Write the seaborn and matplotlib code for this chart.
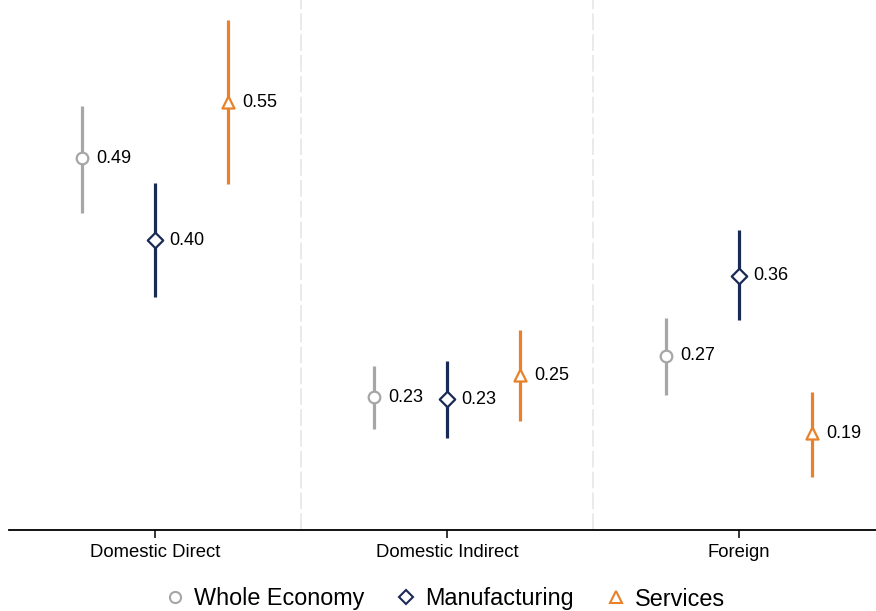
import matplotlib
matplotlib.use("Agg")
import matplotlib.pyplot as plt
from matplotlib.lines import Line2D
import seaborn as sns
import pandas as pd
import numpy as np

# ---- data ----
categories = ["Domestic Direct", "Domestic Indirect", "Foreign"]
series = ["Whole Economy", "Manufacturing", "Services"]
whole_val = [0.488, 0.228, 0.273]
whole_lo = [0.428, 0.193, 0.230]
whole_hi = [0.545, 0.262, 0.314]
manu_val = [0.399, 0.226, 0.360]
manu_lo = [0.337, 0.184, 0.312]
manu_hi = [0.461, 0.267, 0.410]
serv_val = [0.549, 0.252, 0.189]
serv_lo = [0.460, 0.202, 0.141]
serv_hi = [0.638, 0.301, 0.234]

colors = {"Whole Economy": "#A6A6A6", "Manufacturing": "#1A2A56", "Services": "#E8822A"}
markers = {"Whole Economy": "o", "Manufacturing": "D", "Services": "^"}
offsets = {"Whole Economy": -0.25, "Manufacturing": 0.0, "Services": 0.25}

rows = []
for s, v, lo, hi in [("Whole Economy", whole_val, whole_lo, whole_hi),
                     ("Manufacturing", manu_val, manu_lo, manu_hi),
                     ("Services", serv_val, serv_lo, serv_hi)]:
    for i, c in enumerate(categories):
        rows.append(dict(category=c, series=s, value=v[i], lo=lo[i], hi=hi[i],
                         x=i + offsets[s]))
df = pd.DataFrame(rows)

sns.set_style("white")
plt.rcParams["font.family"] = ["Liberation Sans", "DejaVu Sans"]
plt.rcParams["text.color"] = "black"
plt.rcParams["xtick.labelcolor"] = "black"

fig = plt.figure(figsize=(8.76, 6.11), dpi=100)
ax = fig.add_axes([9 / 876, 81 / 611, 876 / 876, 530 / 611])

# separators
for xs in [0.5, 1.5]:
    ax.axvline(xs, color="#E6E6E6", lw=1.2, ls=(0, (10, 2.5)), zorder=0)

# confidence intervals
for s in series:
    d = df[df.series == s]
    ax.vlines(d.x, d.lo, d.hi, color=colors[s], lw=2.3, zorder=2)

# point estimates
sizes = {"Whole Economy": 70, "Manufacturing": 62, "Services": 75}
for s in series:
    d = df[df.series == s]
    sns.scatterplot(data=d, x="x", y="value", marker=markers[s], s=sizes[s],
                    facecolor="white", edgecolor=colors[s], linewidth=1.6,
                    zorder=3, ax=ax, legend=False)

# labels
for _, r in df.iterrows():
    ax.text(r.x + 0.048, r.value, f"{r.value:.2f}", fontsize=13,
            va="center", ha="left", color="black")

ax.set_xlim(-0.5, 2.5)
ax.set_ylim(0.0837, 0.66)
ax.set_xticks(range(len(categories)))
ax.set_xticklabels(categories, fontsize=13.3, color="black")
ax.set_yticks([])
ax.set_xlabel("")
ax.set_ylabel("")
for sp in ["top", "right", "left"]:
    ax.spines[sp].set_visible(False)
ax.spines["bottom"].set_color("black")
ax.spines["bottom"].set_linewidth(1.3)
ax.tick_params(axis="x", bottom=True, length=6, width=1.1, color="black", pad=4)

handles = [Line2D([], [], ls="none", marker=markers[s], markersize=8 if s != "Manufacturing" else 7,
                  markerfacecolor="white", markeredgecolor=colors[s], markeredgewidth=1.5)
           for s in series]
leg = fig.legend(handles, series, loc="center", bbox_to_anchor=(0.507, 1 - 599 / 611),
                 ncol=3, frameon=False, fontsize=16.8, handletextpad=0.3,
                 columnspacing=1.3, handlelength=1.0)
for t in leg.get_texts():
    t.set_color("black")

fig.savefig("out.png", dpi=100)
